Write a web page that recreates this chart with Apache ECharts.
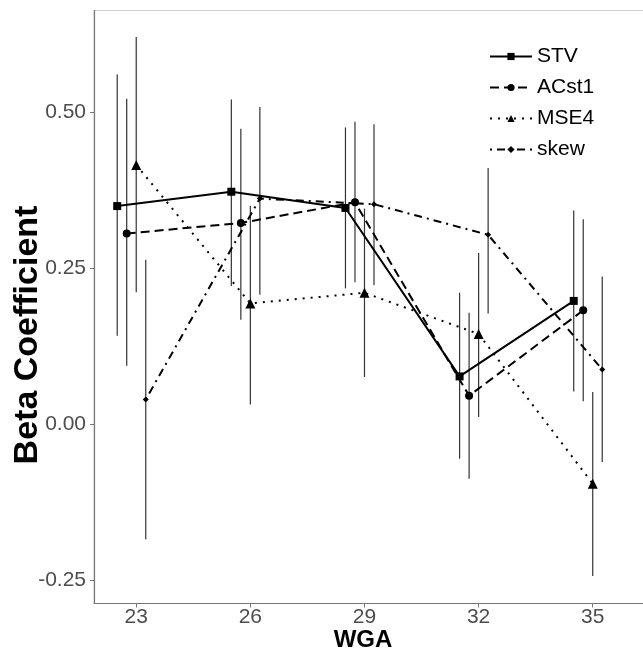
<!DOCTYPE html>
<html>
<head>
<meta charset="utf-8">
<script src="https://cdn.jsdelivr.net/npm/echarts@6/dist/echarts.min.js"></script>
<style>html,body{margin:0;padding:0;background:#fff}#c{width:643px;height:652px}</style>
</head>
<body>
<div id="c"></div>
<script>
const wga = [23, 26, 29, 32, 35];
const seriesNames = ['STV', 'ACst1', 'MSE4', 'skew'];
const STV      = [0.350, 0.373, 0.347, 0.077, 0.198];
const STV_lo   = [0.142, 0.222, 0.218, -0.055, 0.053];
const STV_hi   = [0.561, 0.521, 0.476, 0.211, 0.343];
const ACst1    = [0.306, 0.323, 0.356, 0.046, 0.183];
const ACst1_lo = [0.094, 0.168, 0.228, -0.087, 0.037];
const ACst1_hi = [0.522, 0.474, 0.485, 0.179, 0.329];
const MSE4     = [0.416, 0.194, 0.211, 0.145, -0.095];
const MSE4_lo  = [0.212, 0.032, 0.076, 0.012, -0.243];
const MSE4_hi  = [0.621, 0.350, 0.346, 0.275, 0.052];
const skew     = [0.040, 0.362, 0.353, 0.304, 0.088];
const skew_lo  = [-0.184, 0.208, 0.223, 0.178, -0.060];
const skew_hi  = [0.264, 0.509, 0.481, 0.411, 0.237];
const xTicks = [23, 26, 29, 32, 35];
const yTicks = [-0.25, 0.00, 0.25, 0.50];

const values = [STV, ACst1, MSE4, skew];
const lows = [STV_lo, ACst1_lo, MSE4_lo, skew_lo];
const highs = [STV_hi, ACst1_hi, MSE4_hi, skew_hi];

// presentation
const dodge = [-0.5, -0.25, 0, 0.25];
const symbols = ['rect', 'circle', 'triangle', 'diamond'];
const symSizes = [8, 8, 10, 6];
const dashes = ['solid', [9, 5], [2, 6], [2, 5, 8, 5]];
const FONT = '"Liberation Sans", Arial, Helvetica, sans-serif';

const series = [];
seriesNames.forEach((name, i) => {
  const errData = wga.map((w, j) => [w + dodge[i], lows[i][j], highs[i][j]]);
  series.push({
    type: 'custom',
    name: name + '_err',
    data: errData,
    z: 1,
    silent: true,
    renderItem: function (params, api) {
      const p1 = api.coord([api.value(0), api.value(1)]);
      const p2 = api.coord([api.value(0), api.value(2)]);
      return {
        type: 'line',
        shape: { x1: p1[0], y1: p1[1], x2: p2[0], y2: p2[1] },
        style: { stroke: '#333333', lineWidth: 1.2 }
      };
    }
  });
});
seriesNames.forEach((name, i) => {
  series.push({
    type: 'line',
    name: name,
    data: wga.map((w, j) => [w + dodge[i], values[i][j]]),
    symbol: symbols[i],
    symbolSize: symSizes[i],
    showAllSymbol: true,
    z: 3,
    itemStyle: { color: '#000' },
    lineStyle: { color: '#000', width: 2, type: dashes[i] },
    animation: false
  });
});

const chart = echarts.init(document.getElementById('c'), null, { renderer: 'canvas' });
chart.setOption({
  animation: false,
  backgroundColor: '#fff',
  textStyle: { fontFamily: FONT },
  grid: { left: 94, right: -3, top: 10.5, bottom: 48.5, show: true, borderColor: '#d0d0d0', borderWidth: 1,
    containLabel: false, outerBoundsMode: 'none' },
  legend: {
    data: seriesNames,
    orient: 'vertical',
    left: 484,
    top: 41,
    itemWidth: 42,
    itemHeight: 9,
    itemGap: 10,
    textStyle: { fontSize: 21, color: '#000', fontFamily: FONT, lineHeight: 20 },
    selectedMode: false
  },
  xAxis: {
    type: 'value',
    min: 21.89,
    max: 36.40,
    name: 'WGA',
    nameLocation: 'middle',
    nameGap: 25,
    nameMoveOverlap: false,
    nameTextStyle: { fontSize: 24, fontWeight: 'bold', color: '#000', fontFamily: FONT, padding: [0, 14, 0, 0] },
    axisLine: { show: true, onZero: false, lineStyle: { color: '#777', width: 1.2 } },
    axisTick: { show: true, customValues: xTicks, length: 4, lineStyle: { color: '#777' } },
    axisLabel: { customValues: xTicks, fontSize: 21, color: '#4d4d4d', margin: 3, fontFamily: FONT },
    splitLine: { show: false }
  },
  yAxis: {
    type: 'value',
    min: -0.287,
    max: 0.6635,
    name: 'Beta Coefficient',
    nameLocation: 'middle',
    nameGap: 49,
    nameMoveOverlap: false,
    nameTextStyle: { fontSize: 34, fontWeight: 'bold', color: '#000', fontFamily: FONT, padding: [0, 56, 0, 0] },
    axisLine: { show: true, onZero: false, lineStyle: { color: '#777', width: 1.2 } },
    axisTick: { show: true, customValues: yTicks, length: 4, lineStyle: { color: '#777' } },
    axisLabel: { customValues: yTicks, fontSize: 21, color: '#4d4d4d', margin: 8, fontFamily: FONT,
      formatter: v => v.toFixed(2) },
    splitLine: { show: false }
  },
  series: series
});
</script>
</body>
</html>
